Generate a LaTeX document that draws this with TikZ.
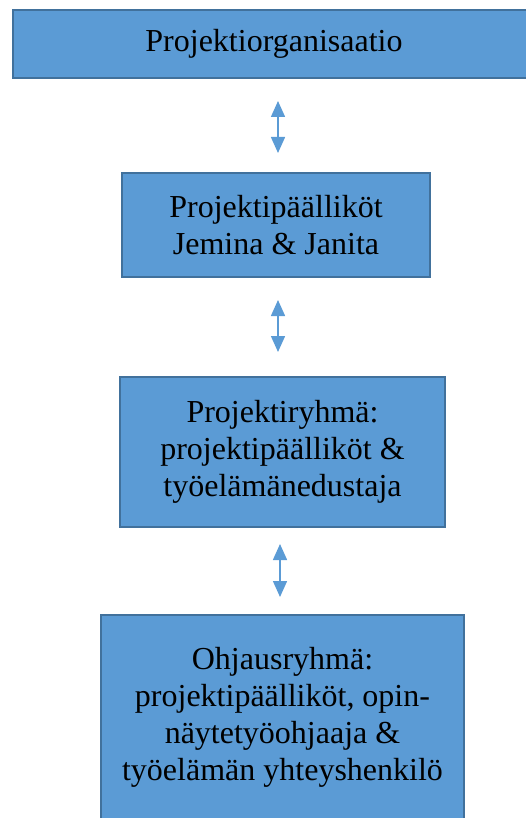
\documentclass[tikz,border=0pt]{standalone}
\usepackage{fontspec}
\setmainfont{Liberation Serif}
\usetikzlibrary{arrows.meta}
\definecolor{boxfill}{HTML}{5B9BD5}
\definecolor{boxline}{HTML}{41719C}
\begin{document}
\begin{tikzpicture}[x=1pt,y=-1pt,
  orgbox/.style={draw=boxline,fill=boxfill,line width=2pt,inner sep=0pt,
    align=center,font=\fontsize{32}{37}\selectfont,text=black},
  link/.style={draw=boxfill,line width=1.5pt,
    {Triangle[width=14pt,length=16pt]}-{Triangle[width=14pt,length=16pt]}}]
\useasboundingbox (0,0) rectangle (526,818);
\clip (0,0) rectangle (526,818);
\node[orgbox,minimum width=522pt,minimum height=68pt] (org) at (274,44) {Projektiorganisaatio};
\node[orgbox,minimum width=308pt,minimum height=104pt] (pp) at (276,225) {Projektipäälliköt\\Jemina \& Janita};
\node[orgbox,minimum width=325pt,minimum height=150pt] (pr) at (282.5,452) {Projektiryhmä:\\projektipäälliköt \&\\työelämänedustaja};
\node[orgbox,minimum width=363pt,minimum height=204pt] (oh) at (282.5,717) {Ohjausryhmä:\\projektipäälliköt, opin-\\näytetyöohjaaja \&\\työelämän yhteyshenkilö};
\coordinate (a1t) at (278,101); \coordinate (a1b) at (278,153);
\coordinate (a2t) at (278,300); \coordinate (a2b) at (278,352);
\coordinate (a3t) at (280,544); \coordinate (a3b) at (280,597);
\draw[link] (a1t) -- (a1b);
\draw[link] (a2t) -- (a2b);
\draw[link] (a3t) -- (a3b);
\end{tikzpicture}
\end{document}
